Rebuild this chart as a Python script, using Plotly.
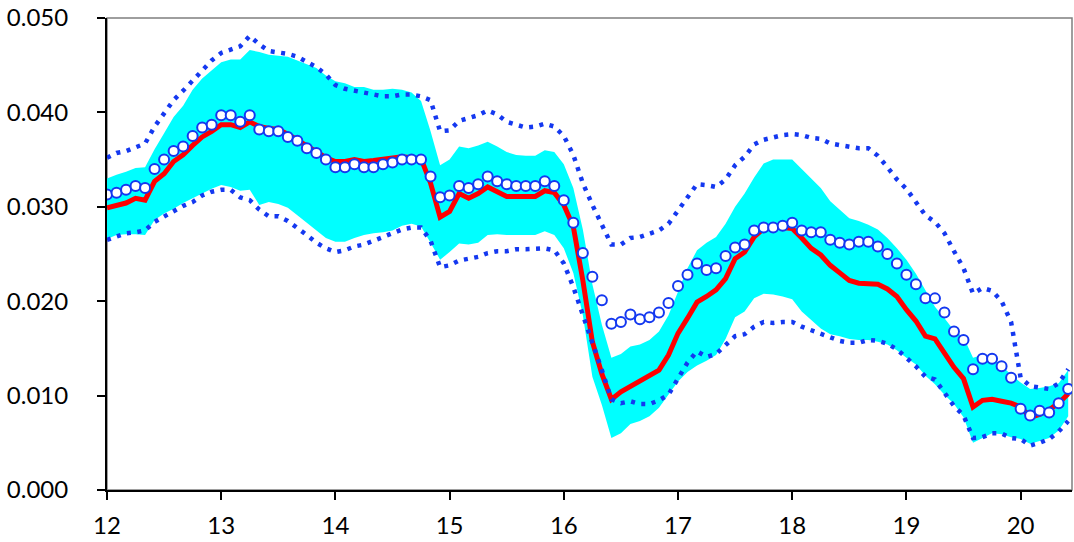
import plotly.graph_objects as go

# monthly observations starting at 12.0
n_points = 102
x_vals = [12 + k / 12 for k in range(n_points)]

circles = [0.0313, 0.0315, 0.0318, 0.0322, 0.0320, 0.0340, 0.0350, 0.0359, 0.0364, 0.0375,
           0.0384, 0.0387, 0.0397, 0.0397, 0.0390, 0.0397, 0.0382, 0.0380, 0.0380, 0.0374,
           0.0370, 0.0362, 0.0357, 0.0350, 0.0342, 0.0342, 0.0345, 0.0342, 0.0342, 0.0345,
           0.0347, 0.0350, 0.0350, 0.0350, 0.0332, 0.0310, 0.0312, 0.0322, 0.0320, 0.0324,
           0.0332, 0.0327, 0.0324, 0.0322, 0.0322, 0.0322, 0.0327, 0.0322, 0.0307, 0.0283,
           0.0251, 0.0226, 0.0201, 0.0176, 0.0178, 0.0186, 0.0181, 0.0183, 0.0188, 0.0198,
           0.0216, 0.0228, 0.0240, 0.0233, 0.0235, 0.0248, 0.0257, 0.0260, 0.0275, 0.0278,
           0.0278, 0.0280, 0.0283, 0.0275, 0.0273, 0.0273, 0.0265, 0.0262, 0.0260, 0.0263,
           0.0263, 0.0258, 0.0250, 0.0240, 0.0228, 0.0218, 0.0203, 0.0203, 0.0188, 0.0168,
           0.0159, 0.0128, 0.0139, 0.0139, 0.0131, 0.0119, 0.0086, 0.0079, 0.0084, 0.0082,
           0.0092, 0.0107]

red_line = [0.0299, 0.0302, 0.0304, 0.0309, 0.0307, 0.0327, 0.0335, 0.0348, 0.0355, 0.0365,
            0.0374, 0.0380, 0.0387, 0.0387, 0.0384, 0.0390, 0.0385, 0.0383, 0.0382, 0.0377,
            0.0371, 0.0364, 0.0358, 0.0352, 0.0348, 0.0348, 0.0350, 0.0348, 0.0349, 0.0350,
            0.0351, 0.0353, 0.0352, 0.0351, 0.0325, 0.0289, 0.0295, 0.0314, 0.0309, 0.0314,
            0.0321, 0.0316, 0.0311, 0.0311, 0.0311, 0.0311, 0.0317, 0.0315, 0.0302, 0.0279,
            0.0222, 0.0157, 0.0123, 0.0096, 0.0104, 0.0110, 0.0115, 0.0121, 0.0127, 0.0143,
            0.0166, 0.0182, 0.0199, 0.0205, 0.0212, 0.0224, 0.0245, 0.0252, 0.0268, 0.0277,
            0.0280, 0.0278, 0.0277, 0.0267, 0.0256, 0.0249, 0.0238, 0.0230, 0.0222, 0.0219,
            0.0219, 0.0218, 0.0213, 0.0205, 0.0191, 0.0179, 0.0163, 0.0160, 0.0145, 0.0130,
            0.0118, 0.0088, 0.0095, 0.0096, 0.0094, 0.0092, 0.0088, 0.0077, 0.0080, 0.0085,
            0.0092, 0.0102]

band_upper = [0.0330, 0.0334, 0.0337, 0.0341, 0.0342, 0.0361, 0.0378, 0.0395, 0.0407, 0.0424,
              0.0436, 0.0445, 0.0453, 0.0456, 0.0456, 0.0466, 0.0464, 0.0461, 0.0460, 0.0459,
              0.0455, 0.0451, 0.0447, 0.0439, 0.0433, 0.0431, 0.0427, 0.0427, 0.0424, 0.0424,
              0.0425, 0.0424, 0.0421, 0.0412, 0.0380, 0.0344, 0.0350, 0.0364, 0.0362, 0.0365,
              0.0369, 0.0364, 0.0358, 0.0355, 0.0354, 0.0354, 0.0360, 0.0358, 0.0345, 0.0320,
              0.0276, 0.0218, 0.0175, 0.0140, 0.0144, 0.0152, 0.0154, 0.0159, 0.0168, 0.0185,
              0.0210, 0.0235, 0.0254, 0.0262, 0.0268, 0.0282, 0.0300, 0.0314, 0.0331, 0.0346,
              0.0350, 0.0350, 0.0350, 0.0340, 0.0330, 0.0320, 0.0306, 0.0297, 0.0288, 0.0285,
              0.0281, 0.0276, 0.0267, 0.0256, 0.0244, 0.0229, 0.0212, 0.0194, 0.0182, 0.0169,
              0.0162, 0.0140, 0.0143, 0.0140, 0.0132, 0.0122, 0.0114, 0.0107, 0.0108, 0.0110,
              0.0113, 0.0127]

band_lower = [0.0266, 0.0270, 0.0271, 0.0271, 0.0270, 0.0286, 0.0293, 0.0298, 0.0304, 0.0309,
              0.0314, 0.0319, 0.0323, 0.0321, 0.0317, 0.0318, 0.0302, 0.0305, 0.0303, 0.0299,
              0.0291, 0.0283, 0.0275, 0.0267, 0.0263, 0.0263, 0.0267, 0.0270, 0.0272, 0.0273,
              0.0275, 0.0280, 0.0282, 0.0279, 0.0262, 0.0244, 0.0252, 0.0261, 0.0260, 0.0262,
              0.0270, 0.0271, 0.0270, 0.0270, 0.0270, 0.0270, 0.0274, 0.0270, 0.0256, 0.0230,
              0.0185, 0.0120, 0.0090, 0.0055, 0.0060, 0.0070, 0.0073, 0.0078, 0.0087, 0.0101,
              0.0115, 0.0125, 0.0132, 0.0137, 0.0143, 0.0160, 0.0183, 0.0189, 0.0203, 0.0208,
              0.0207, 0.0205, 0.0202, 0.0189, 0.0180, 0.0171, 0.0165, 0.0163, 0.0160, 0.0159,
              0.0159, 0.0157, 0.0154, 0.0148, 0.0140, 0.0133, 0.0121, 0.0112, 0.0101, 0.0091,
              0.0077, 0.0050, 0.0055, 0.0060, 0.0059, 0.0056, 0.0054, 0.0049, 0.0052, 0.0055,
              0.0063, 0.0078]

dotted_upper = [0.0352, 0.0357, 0.0359, 0.0363, 0.0367, 0.0385, 0.0399, 0.0413, 0.0423, 0.0434,
                0.0445, 0.0455, 0.0463, 0.0467, 0.0470, 0.0481, 0.0472, 0.0465, 0.0464, 0.0462,
                0.0459, 0.0454, 0.0448, 0.0440, 0.0429, 0.0425, 0.0423, 0.0420, 0.0418, 0.0417,
                0.0417, 0.0419, 0.0419, 0.0417, 0.0413, 0.0380, 0.0381, 0.0391, 0.0394, 0.0397,
                0.0402, 0.0398, 0.0390, 0.0387, 0.0384, 0.0385, 0.0388, 0.0385, 0.0375, 0.0355,
                0.0325, 0.0302, 0.0281, 0.0260, 0.0260, 0.0267, 0.0268, 0.0272, 0.0275, 0.0282,
                0.0296, 0.0310, 0.0324, 0.0323, 0.0321, 0.0329, 0.0344, 0.0353, 0.0366, 0.0371,
                0.0374, 0.0376, 0.0377, 0.0376, 0.0373, 0.0372, 0.0367, 0.0365, 0.0363, 0.0362,
                0.0362, 0.0354, 0.0342, 0.0329, 0.0319, 0.0305, 0.0291, 0.0284, 0.0272, 0.0253,
                0.0235, 0.0208, 0.0214, 0.0211, 0.0200, 0.0178, 0.0119, 0.0110, 0.0109, 0.0107,
                0.0113, 0.0128]

dotted_lower = [0.0265, 0.0268, 0.0272, 0.0273, 0.0275, 0.0284, 0.0290, 0.0296, 0.0301, 0.0305,
                0.0312, 0.0316, 0.0318, 0.0318, 0.0310, 0.0307, 0.0297, 0.0290, 0.0290, 0.0285,
                0.0278, 0.0270, 0.0262, 0.0256, 0.0252, 0.0254, 0.0258, 0.0260, 0.0264, 0.0268,
                0.0272, 0.0276, 0.0278, 0.0278, 0.0264, 0.0236, 0.0238, 0.0243, 0.0245, 0.0247,
                0.0251, 0.0253, 0.0253, 0.0255, 0.0255, 0.0255, 0.0256, 0.0254, 0.0240, 0.0215,
                0.0187, 0.0156, 0.0127, 0.0096, 0.0092, 0.0094, 0.0091, 0.0091, 0.0095, 0.0101,
                0.0118, 0.0135, 0.0147, 0.0141, 0.0144, 0.0153, 0.0163, 0.0165, 0.0173, 0.0178,
                0.0177, 0.0178, 0.0178, 0.0173, 0.0169, 0.0166, 0.0162, 0.0158, 0.0156, 0.0156,
                0.0159, 0.0158, 0.0155, 0.0149, 0.0140, 0.0131, 0.0120, 0.0117, 0.0103, 0.0089,
                0.0079, 0.0055, 0.0056, 0.0060, 0.0060, 0.0055, 0.0054, 0.0047, 0.0050, 0.0054,
                0.0062, 0.0073]

x_ticks = [12, 13, 14, 15, 16, 17, 18, 19, 20]
x_tick_labels = ["12", "13", "14", "15", "16", "17", "18", "19", "20"]
y_ticks = [0.0, 0.01, 0.02, 0.03, 0.04, 0.05]
y_tick_labels = ["0.000", "0.010", "0.020", "0.030", "0.040", "0.050"]

CYAN = "#00FFFF"
RED = "#FF0000"
BLUE = "#1438F0"
FONT = "Lato"

fig = go.Figure()

fig.add_trace(go.Scatter(x=x_vals, y=band_lower, mode="lines",
                         line=dict(width=0, color=CYAN), hoverinfo="skip", showlegend=False))
fig.add_trace(go.Scatter(x=x_vals, y=band_upper, mode="lines", fill="tonexty",
                         fillcolor=CYAN, line=dict(width=0, color=CYAN),
                         hoverinfo="skip", showlegend=False))
fig.add_trace(go.Scatter(x=x_vals, y=red_line, mode="lines",
                         line=dict(color=RED, width=5), showlegend=False))
for series in (dotted_upper, dotted_lower):
    fig.add_trace(go.Scatter(x=x_vals, y=series, mode="lines",
                             line=dict(color=BLUE, width=4.5, dash="4px,6.5px"),
                             showlegend=False))
fig.add_trace(go.Scatter(x=x_vals, y=circles, mode="markers",
                         marker=dict(symbol="circle", size=10, color="white",
                                     line=dict(color=BLUE, width=2)),
                         showlegend=False))

fig.update_layout(
    width=1074, height=542,
    margin=dict(l=107, r=2, t=18, b=52),
    paper_bgcolor="white", plot_bgcolor="white",
    font=dict(family=FONT, size=24, color="black"),
    shapes=[dict(type="rect", xref="paper", yref="paper", x0=0, y0=0, x1=1, y1=1,
                 line=dict(color="#7F7F7F", width=1.5), layer="below")],
)
fig.update_xaxes(range=[12, 20.45], tickvals=x_ticks, ticktext=x_tick_labels,
                 showgrid=False, zeroline=False, showline=True, linecolor="black",
                 linewidth=2, ticks="outside", ticklen=8, tickwidth=1.5, tickcolor="black",
                 ticklabelstandoff=5, automargin=False)
fig.update_yaxes(range=[0, 0.05], tickvals=y_ticks, ticktext=y_tick_labels,
                 showgrid=False, zeroline=False, showline=True, linecolor="black",
                 linewidth=2, ticks="outside", ticklen=8, tickwidth=1.5, tickcolor="black",
                 ticklabelstandoff=24, automargin=False)

fig.write_html("out.html", config={"displayModeBar": False},
               post_script="document.body.style.margin='0';document.body.style.overflow='hidden';")
